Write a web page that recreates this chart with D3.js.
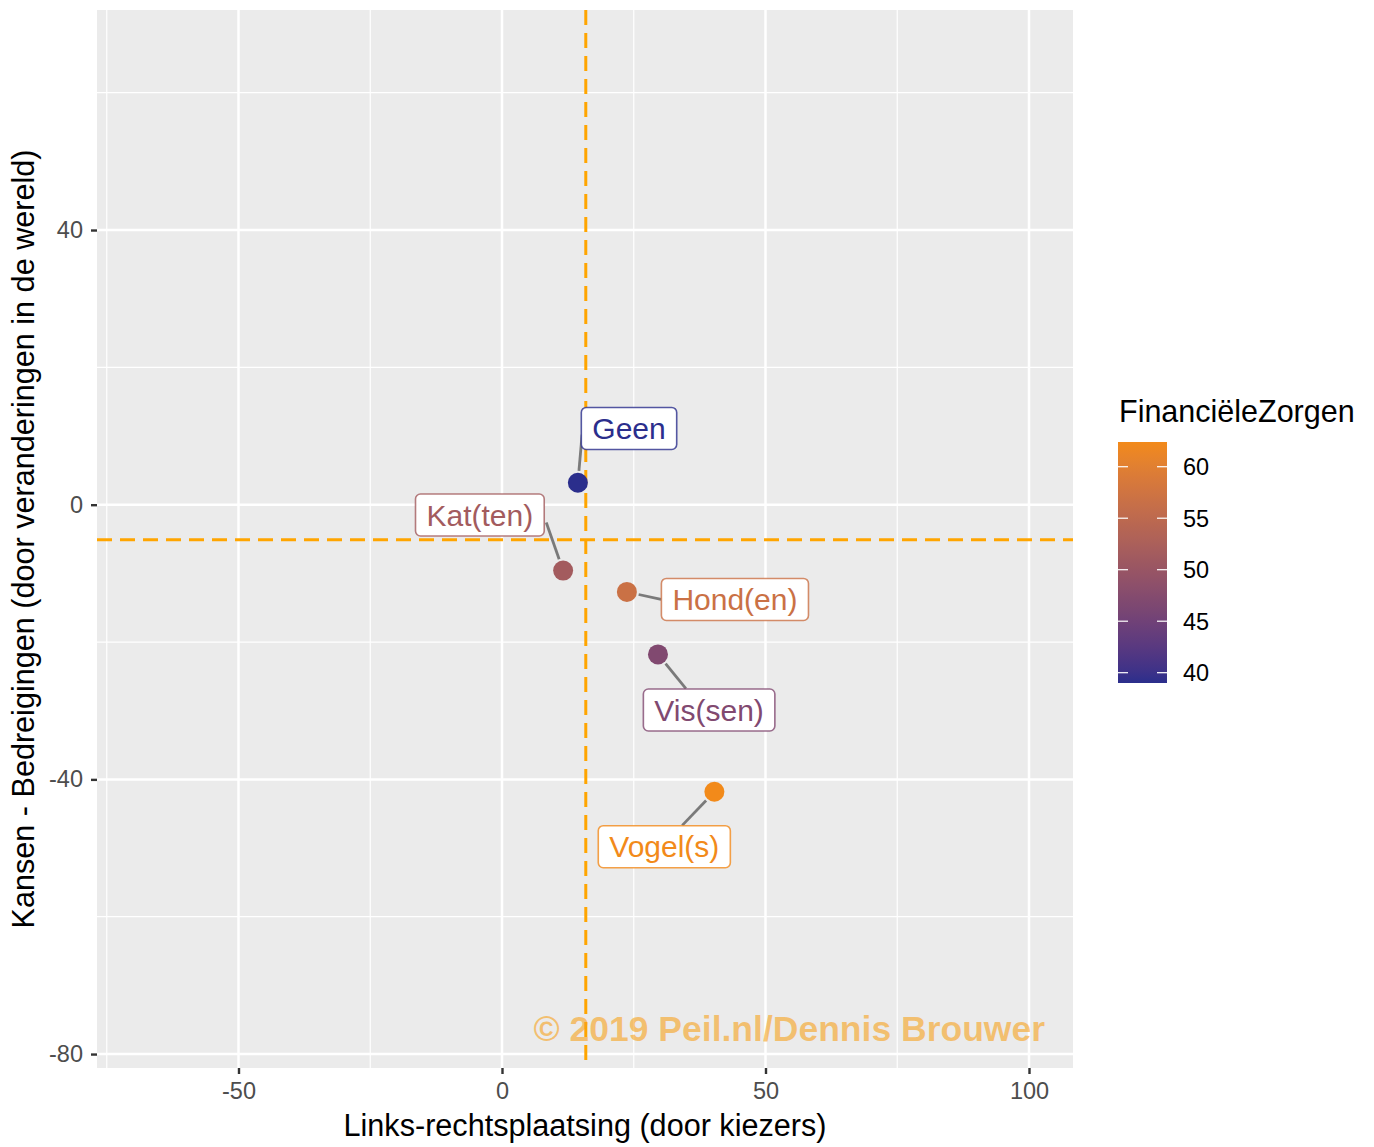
<!DOCTYPE html>
<html><head><meta charset="utf-8">
<script src="https://cdn.jsdelivr.net/npm/d3@7"></script>
<style>body{margin:0;background:#fff;font-family:"Liberation Sans",Arial,sans-serif;}</style>
</head><body>
<svg id="chart" width="1374" height="1147"></svg>
<script>
// ---- data ----
const categories = ["Geen", "Kat(ten)", "Hond(en)", "Vis(sen)", "Vogel(s)"];
const xValues = [14.4, 11.6, 23.7, 29.6, 40.3];
const yValues = [3.2, -9.6, -12.7, -21.8, -41.8];
const colorValues = [39.0, 51.5, 56.8, 47.0, 62.4];
// repelled label positions (data units) and segment end points (as laid out in the picture)
const labelX = [24.1, -4.2, 44.2, 39.3, 30.8];
const labelY = [11.1, -1.5, -13.8, -29.9, -49.8];
const segEndX = [15.2, 8.4, 30.2, 34.9, 34.2];
const segEndY = [10.2, -2.6, -13.8, -26.8, -46.7];
const xMajor = [-50, 0, 50, 100];
const xMinor = [-75, -25, 25, 75];
const yMajor = [-80, -40, 0, 40];
const yMinor = [-60, -20, 20, 60];
const legendTicks = [40, 45, 50, 55, 60];
const refX = 15.9, refY = -5.1;
const xTitle = "Links-rechtsplaatsing (door kiezers)";
const yTitle = "Kansen - Bedreigingen (door veranderingen in de wereld)";
const legendTitle = "FinanciëleZorgen";
const watermark = "© 2019 Peil.nl/Dennis Brouwer";

// ---- layout ----
const P = {l: 97, r: 1073, t: 10, b: 1068};
const svg = d3.select("#chart");
const x = d3.scaleLinear().domain([-76.85, 108.35]).range([P.l, P.r]);
const y = d3.scaleLinear().domain([-82.03, 72.04]).range([P.b, P.t]);
const cMin = d3.min(colorValues), cMax = d3.max(colorValues);
const color = d3.scaleLinear().domain([cMin, cMax]).range(["#2B2E8C", "#F28A1A"]).interpolate(d3.interpolateLab);

// panel
svg.append("rect").attr("x", P.l).attr("y", P.t).attr("width", P.r - P.l).attr("height", P.b - P.t).attr("fill", "#EBEBEB");
const grid = svg.append("g");
grid.selectAll(".vmin").data(xMinor).join("line").attr("x1", d => x(d)).attr("x2", d => x(d)).attr("y1", P.t).attr("y2", P.b).attr("stroke", "#fff").attr("stroke-width", 1.2);
grid.selectAll(".hmin").data(yMinor).join("line").attr("y1", d => y(d)).attr("y2", d => y(d)).attr("x1", P.l).attr("x2", P.r).attr("stroke", "#fff").attr("stroke-width", 1.2);
grid.selectAll(".vmaj").data(xMajor).join("line").attr("x1", d => x(d)).attr("x2", d => x(d)).attr("y1", P.t).attr("y2", P.b).attr("stroke", "#fff").attr("stroke-width", 2.5);
grid.selectAll(".hmaj").data(yMajor).join("line").attr("y1", d => y(d)).attr("y2", d => y(d)).attr("x1", P.l).attr("x2", P.r).attr("stroke", "#fff").attr("stroke-width", 2.5);

// axes
const xAxis = d3.axisBottom(x).tickValues(xMajor).tickSize(6).tickPadding(6).tickFormat(d3.format("d"));
const yAxis = d3.axisLeft(y).tickValues(yMajor).tickSize(6).tickPadding(8).tickFormat(d3.format("d"));
const gx = svg.append("g").attr("transform", `translate(0,${P.b})`).call(xAxis);
const gy = svg.append("g").attr("transform", `translate(${P.l},0)`).call(yAxis);
[gx, gy].forEach(g => {
  g.select(".domain").remove();
  g.selectAll(".tick line").attr("stroke", "#333").attr("stroke-width", 2.4);
  g.selectAll(".tick text").attr("fill", "#4D4D4D").style("font-size", "23.5px").style("font-family", "Liberation Sans, Arial, sans-serif");
  g.selectAll(".tick text").text(d => d3.format("d")(d).replace("−", "-"));
});
gx.selectAll(".tick text").attr("dy", "0.8em");

// axis titles
svg.append("text").attr("x", (P.l + P.r) / 2).attr("y", 1136).attr("text-anchor", "middle")
  .style("font-size", "30.6px").attr("fill", "#000").text(xTitle);
svg.append("text").attr("transform", `translate(34,${(P.t + P.b) / 2}) rotate(-90)`).attr("text-anchor", "middle")
  .style("font-size", "30.6px").attr("fill", "#000").text(yTitle);

// reference lines
svg.append("line").attr("x1", x(refX)).attr("x2", x(refX)).attr("y1", P.t).attr("y2", P.b)
  .attr("stroke", "#FFA500").attr("stroke-width", 3).attr("stroke-dasharray", "15,8");
svg.append("line").attr("y1", y(refY)).attr("y2", y(refY)).attr("x1", P.l).attr("x2", P.r)
  .attr("stroke", "#FFA500").attr("stroke-width", 3).attr("stroke-dasharray", "15,8");

// data rows
const rows = categories.map((c, i) => ({name: c, x: xValues[i], y: yValues[i], c: colorValues[i],
  lx: labelX[i], ly: labelY[i], sx: segEndX[i], sy: segEndY[i]}));

// segments
const R = 10;
function segStart(d) {
  const px = x(d.x), py = y(d.y), ex = x(d.sx), ey = y(d.sy);
  const L = Math.hypot(ex - px, ey - py);
  return [px + (ex - px) / L * (R + 2), py + (ey - py) / L * (R + 2)];
}
svg.append("g").selectAll("line").data(rows).join("line")
  .attr("x1", d => segStart(d)[0]).attr("y1", d => segStart(d)[1])
  .attr("x2", d => x(d.sx)).attr("y2", d => y(d.sy))
  .attr("stroke", "#7A7A7A").attr("stroke-width", 2.8);

// points
svg.append("g").selectAll("circle").data(rows).join("circle")
  .attr("cx", d => x(d.x)).attr("cy", d => y(d.y)).attr("r", R).attr("fill", d => color(d.c));

// labels
const lg = svg.append("g").selectAll("g").data(rows).join("g")
  .attr("transform", d => `translate(${x(d.lx)},${y(d.ly)})`);
const rects = lg.append("rect");
const texts = lg.append("text").attr("text-anchor", "middle").attr("dy", "0.36em")
  .style("font-size", "30px").attr("fill", d => color(d.c)).text(d => d.name);
texts.each(function(d) {
  const bb = this.getBBox();
  d.w = bb.width + 22; d.h = 42;
});
rects.attr("x", d => -d.w / 2).attr("y", d => -d.h / 2).attr("width", d => d.w).attr("height", d => d.h)
  .attr("rx", 5).attr("ry", 5).attr("fill", "#fff").attr("stroke", d => color(d.c)).attr("stroke-opacity", 0.8).attr("stroke-width", 1.6);

// watermark
svg.append("text").attr("x", 1045).attr("y", 1041).attr("text-anchor", "end")
  .style("font-size", "35.5px").style("font-weight", "bold").attr("fill", "#F7A21B").attr("fill-opacity", 0.6).text(watermark);

// legend
const L = {x: 1118, y: 442, w: 49, h: 241};
svg.append("text").attr("x", 1119).attr("y", 422).style("font-size", "30.5px").attr("fill", "#000").text(legendTitle);
const ly = d3.scaleLinear().domain([cMin, cMax]).range([L.y + L.h, L.y]);
const defs = svg.append("defs");
const grad = defs.append("linearGradient").attr("id", "lgrad").attr("x1", 0).attr("x2", 0).attr("y1", 1).attr("y2", 0);
d3.range(0, 1.0001, 0.05).forEach(t => {
  grad.append("stop").attr("offset", t).attr("stop-color", color(cMin + t * (cMax - cMin)));
});
svg.append("rect").attr("x", L.x).attr("y", L.y).attr("width", L.w).attr("height", L.h).attr("fill", "url(#lgrad)");
const lt = svg.append("g").selectAll("g").data(legendTicks).join("g");
lt.append("line").attr("x1", L.x).attr("x2", L.x + 10).attr("y1", d => ly(d)).attr("y2", d => ly(d)).attr("stroke", "#fff").attr("stroke-width", 1.2);
lt.append("line").attr("x1", L.x + L.w - 10).attr("x2", L.x + L.w).attr("y1", d => ly(d)).attr("y2", d => ly(d)).attr("stroke", "#fff").attr("stroke-width", 1.2);
lt.append("text").attr("x", 1183).attr("y", d => ly(d)).attr("dy", "0.36em").style("font-size", "23.5px").attr("fill", "#000").text(d => d);
</script>
</body></html>
